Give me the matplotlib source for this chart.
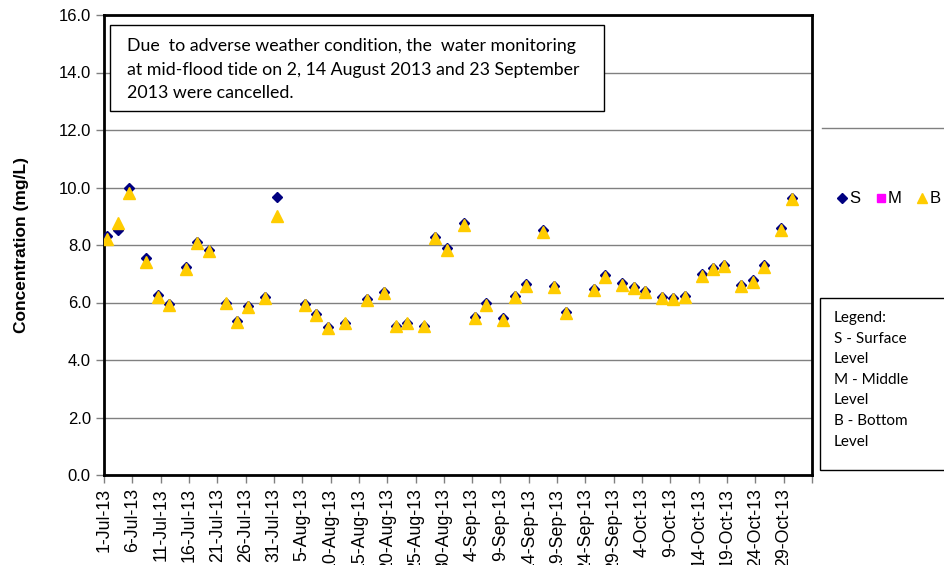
import pandas as pd
import numpy as np
import matplotlib.pyplot as plt
from matplotlib.lines import Line2D
from matplotlib.patches import Rectangle

# 採水日
dates = ['2013-07-01', '2013-07-03', '2013-07-05', '2013-07-08', '2013-07-10', '2013-07-12',
         '2013-07-15', '2013-07-17', '2013-07-19', '2013-07-22', '2013-07-24', '2013-07-26',
         '2013-07-29', '2013-07-31', '2013-08-05', '2013-08-07', '2013-08-09', '2013-08-12',
         '2013-08-16', '2013-08-19', '2013-08-21', '2013-08-23', '2013-08-26', '2013-08-28',
         '2013-08-30', '2013-09-02', '2013-09-04', '2013-09-06', '2013-09-09', '2013-09-11',
         '2013-09-13', '2013-09-16', '2013-09-18', '2013-09-20', '2013-09-25', '2013-09-27',
         '2013-09-30', '2013-10-02', '2013-10-04', '2013-10-07', '2013-10-09', '2013-10-11',
         '2013-10-14', '2013-10-16', '2013-10-18', '2013-10-21', '2013-10-23', '2013-10-25',
         '2013-10-28', '2013-10-30']

# S (surface) と B (bottom) の濃度 (mg/L)
surface = [8.30, 8.52, 9.97, 7.54, 6.26, 5.95, 7.25, 8.11, 7.83, 6.00, 5.36, 5.89,
           6.20, 9.68, 5.95, 5.60, 5.16, 5.30, 6.13, 6.38, 5.19, 5.30, 5.19, 8.29,
           7.88, 8.75, 5.51, 5.97, 5.45, 6.24, 6.63, 8.52, 6.57, 5.68, 6.46, 6.96,
           6.67, 6.55, 6.40, 6.20, 6.14, 6.23, 6.98, 7.21, 7.30, 6.61, 6.78, 7.30,
           8.58, 9.65]
bottom = [8.22, 8.78, 9.80, 7.42, 6.20, 5.93, 7.18, 8.08, 7.78, 5.97, 5.31, 5.84,
          6.17, 9.00, 5.91, 5.55, 5.12, 5.27, 6.09, 6.32, 5.17, 5.27, 5.17, 8.23,
          7.83, 8.68, 5.46, 5.92, 5.40, 6.18, 6.57, 8.46, 6.53, 5.62, 6.42, 6.90,
          6.61, 6.50, 6.35, 6.16, 6.11, 6.18, 6.93, 7.17, 7.26, 6.56, 6.72, 7.25,
          8.52, 9.59]
middle = []  # M の測定なし

y_ticks = [0, 2, 4, 6, 8, 10, 12, 14, 16]

note_lines = ['Due  to adverse weather condition, the  water monitoring',
              'at mid-flood tide on 2, 14 August 2013 and 23 September',
              '2013 were cancelled.']
legend_lines = ['Legend:', 'S - Surface', 'Level', 'M - Middle', 'Level', 'B - Bottom', 'Level']

c_s = '#000080'
c_m = '#FF00FF'
c_b = '#FFCC00'

plt.rcParams['font.family'] = ['Liberation Sans', 'DejaVu Sans']

fig = plt.figure(figsize=(9.44, 5.65), dpi=100)
W, H = 944, 565
ax = fig.add_axes([104 / W, 1 - 475 / H, (812 - 104) / W, (475 - 15) / H])

# Excelの日付軸に合わせて日の中央にプロット
x = pd.to_datetime(dates) + pd.Timedelta(hours=12)
ax.plot(x, surface, linestyle='none', marker='D', markersize=5.6, color=c_s, zorder=3)
ax.plot(pd.to_datetime(middle), middle, linestyle='none', marker='s', markersize=6, color=c_m, zorder=3)
ax.plot(x, bottom, linestyle='none', marker='^', markersize=8.6, color=c_b, zorder=4)

tick_dates = pd.date_range('2013-07-01', '2013-11-03', freq='5D')
tick_labels = [f"{d.day}-{d.strftime('%b')}-13" for d in tick_dates[:-1]] + ['']
ax.set_xlim(pd.Timestamp('2013-07-01'), pd.Timestamp('2013-11-03'))
ax.set_xticks(tick_dates)
ax.set_xticklabels(tick_labels, rotation=90, fontsize=12.8)

ax.set_ylim(0, 16)
ax.set_yticks(y_ticks)
ax.set_yticklabels([f'{v:.1f}' for v in y_ticks], fontsize=12)
ax.set_ylabel('Concentration (mg/L)', fontsize=12.5, fontweight='bold', labelpad=21)

ax.grid(axis='y', color='#808080', linewidth=1)
ax.set_axisbelow(True)
for s in ax.spines.values():
    s.set_linewidth(2)
    s.set_color('black')
ax.tick_params(axis='both', direction='out', length=6, width=1, color='#808080')

# 注記ボックス
fig.patches.append(Rectangle((110 / W, 1 - 111 / H), (604 - 110) / W, (111 - 25) / H,
                             transform=fig.transFigure, facecolor='white',
                             edgecolor='black', linewidth=1, zorder=5))
for i, line in enumerate(note_lines):
    fig.text(127 / W, 1 - (46 + i * 23.5) / H, line, fontsize=12.8, family='Lato',
             va='center', ha='left', zorder=6)

# 右側の区切り線
fig.add_artist(Line2D([822 / W, 1], [1 - 128 / H, 1 - 128 / H], color='#808080', linewidth=1))

# 凡例
handles = [Line2D([], [], linestyle='none', marker='D', markersize=5, color=c_s),
           Line2D([], [], linestyle='none', marker='s', markersize=6, color=c_m),
           Line2D([], [], linestyle='none', marker='^', markersize=7, color=c_b)]
fig.legend(handles, ['S', 'M', 'B'], loc='center left', bbox_to_anchor=(837 / W, 1 - 199 / H),
           ncol=3, frameon=False, fontsize=12, handlelength=0.6, handletextpad=0.15,
           columnspacing=0.9, borderpad=0, borderaxespad=0)

# 凡例説明ボックス
fig.patches.append(Rectangle((820 / W, 1 - 470 / H), (960 - 820) / W, (470 - 298) / H,
                             transform=fig.transFigure, facecolor='white',
                             edgecolor='black', linewidth=1, clip_on=False))
for i, line in enumerate(legend_lines):
    fig.text(834 / W, 1 - (318 + i * 20.6) / H, line, fontsize=11, family='Lato',
             va='center', ha='left')

fig.savefig('out.png', dpi=100)
